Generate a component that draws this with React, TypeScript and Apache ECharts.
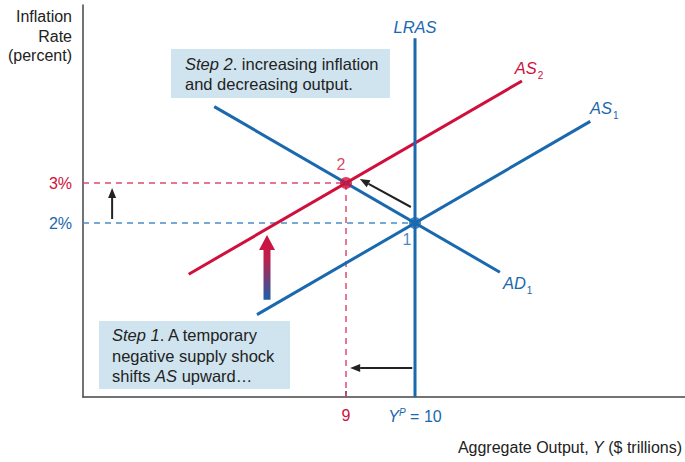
import React, { useEffect, useRef } from "react";
import * as echarts from "echarts";

// ---- data (economic units: Y in $ trillions, pi in percent) ----
const AS1 = [[7.71, -0.29], [12.54, 4.54]];
const AS2 = [[6.72, 0.72], [11.55, 5.55]];
const AD1 = [[7.09, 4.91], [11.23, 0.77]];
const LRAS = [[10, -2.35], [10, 6.62]];
const POINT1 = [10, 2];
const POINT2 = [9, 3];
// arrows: [x1, y1, x2, y2] (tail -> head)
const BLACK_ARROWS = [
  [9.94, 2.4, 9.2, 3.1],
  [5.61, 2.1, 5.61, 2.875],
  [9.96, -1.625, 9.06, -1.625],
];
const SHOCK_ARROW = [[7.855, 0.08, 7.855, 1.7]];
const X_TICKS = [9, 10];
const Y_TICKS = [2, 3];
const X_RANGE = [5.188, 13.913];
const Y_RANGE = [-2.35, 7.45];

const RED = "#d0103c";
const BLUE = "#1a68ae";
const RED_DASH = "#e04a70";
const BLUE_DASH = "#4a8dc8";
const FONT = "Liberation Sans, Arial, sans-serif";
const BOX = "#cfe4ef";

function arrowItem(params: any, api: any) {
  const p1 = api.coord([api.value(0), api.value(1)]);
  const p2 = api.coord([api.value(2), api.value(3)]);
  const dx = p2[0] - p1[0];
  const dy = p2[1] - p1[1];
  const len = Math.sqrt(dx * dx + dy * dy);
  const ux = dx / len, uy = dy / len;
  const nx = -uy, ny = ux;
  const hl = 10, hw = 4;
  const bx = p2[0] - ux * hl, by = p2[1] - uy * hl;
  return {
    type: "group",
    children: [
      { type: "line", shape: { x1: p1[0], y1: p1[1], x2: bx, y2: by }, style: { stroke: "#222", lineWidth: 2 } },
      {
        type: "polygon",
        shape: { points: [[p2[0], p2[1]], [bx + nx * hw, by + ny * hw], [bx - nx * hw, by - ny * hw]] },
        style: { fill: "#222" },
      },
    ],
  };
}

function shockItem(params: any, api: any) {
  const p1 = api.coord([api.value(0), api.value(1)]);
  const p2 = api.coord([api.value(2), api.value(3)]);
  const x = p1[0];
  const sw = 3.5, hw = 8, hl = 15;
  const hb = p2[1] + hl;
  return {
    type: "polygon",
    shape: {
      points: [
        [x - sw, p1[1]], [x - sw, hb], [x - hw, hb], [x, p2[1]], [x + hw, hb], [x + sw, hb], [x + sw, p1[1]],
      ],
    },
    style: {
      fill: new echarts.graphic.LinearGradient(0, 0, 0, 1, [
        { offset: 0, color: RED },
        { offset: 0.35, color: "#c01e4a" },
        { offset: 1, color: "#1f5fa8" },
      ]),
    },
  };
}

function lineSeries(name: string, data: number[][], color: string, label: any) {
  const d: any[] = data.map((p) => ({ value: p }));
  d[d.length - 1].label = label;
  return {
    name,
    type: "line",
    data: d,
    symbol: "circle",
    symbolSize: 0,
    showSymbol: true,
    lineStyle: { color, width: 3 },
    itemStyle: { color },
    z: 3,
  };
}

const curveRich = (color: string) => ({
  i: { fontStyle: "italic", fontSize: 16.5, color, fontFamily: FONT, lineHeight: 24 },
  s: { fontSize: 10, color, fontFamily: FONT, lineHeight: 10, verticalAlign: "bottom", padding: [0, 0, 0, 1] },
});

export default function App() {
  const ref = useRef<HTMLDivElement>(null);
  useEffect(() => {
    const chart = echarts.init(ref.current!, undefined, { renderer: "svg" });
    chart.setOption({
      animation: false,
      backgroundColor: "#fff",
      textStyle: { fontFamily: FONT },
      grid: { left: 83, right: 0, top: 5, bottom: 65 },
      xAxis: {
        type: "value",
        min: X_RANGE[0],
        max: X_RANGE[1],
        splitLine: { show: false },
        axisLine: { onZero: false, lineStyle: { color: "#444", width: 1.5 } },
        axisTick: { show: true, inside: true, length: 6, customValues: [X_TICKS[0]], lineStyle: { color: "#333", width: 1.5 } },
        axisLabel: {
          customValues: X_TICKS,
          margin: 10,
          formatter: (v: number) => (v === X_TICKS[0] ? "{r|" + v + "}" : "{i|Y}{p|P}{b| = " + v + "}"),
          rich: {
            r: { color: RED, fontSize: 16, fontFamily: FONT },
            i: { color: BLUE, fontSize: 16, fontStyle: "italic", fontFamily: FONT },
            p: { color: BLUE, fontSize: 10, fontStyle: "italic", fontFamily: FONT, verticalAlign: "top", padding: [0, 0, 8, 0] },
            b: { color: BLUE, fontSize: 16, fontFamily: FONT },
          },
        },
      },
      yAxis: {
        type: "value",
        min: Y_RANGE[0],
        max: Y_RANGE[1],
        splitLine: { show: false },
        axisLine: { onZero: false, lineStyle: { color: "#444", width: 1.5 } },
        axisTick: { show: false },
        axisLabel: {
          customValues: Y_TICKS,
          margin: 11,
          fontSize: 16,
          fontFamily: FONT,
          formatter: (v: number) => v + "%",
          color: (v: any) => (Number(v) === 3 ? RED : BLUE),
        },
      },
      series: [
        {
          type: "line",
          data: [[X_RANGE[0], POINT2[1]], POINT2, [POINT2[0], Y_RANGE[0]]],
          symbol: "none",
          lineStyle: { color: RED_DASH, width: 1.5, type: [6, 5] },
          z: 1,
        },
        {
          type: "line",
          data: [[X_RANGE[0], POINT1[1]], POINT1],
          symbol: "none",
          lineStyle: { color: BLUE_DASH, width: 1.5, type: [6, 5] },
          z: 1,
        },
        lineSeries("AS1", AS1, BLUE, {
          show: true, position: "top", offset: [14, 4],
          formatter: "{i|AS}{s|1}", rich: curveRich(BLUE),
        }),
        lineSeries("AS2", AS2, RED, {
          show: true, position: "top", offset: [7, 4],
          formatter: "{i|AS}{s|2}", rich: curveRich(RED),
        }),
        lineSeries("AD1", AD1, BLUE, {
          show: true, position: "right", offset: [-2, 11],
          formatter: "{i|AD}{s|1}", rich: curveRich(BLUE),
        }),
        lineSeries("LRAS", LRAS, BLUE, {
          show: true, position: "top", distance: 3,
          formatter: "{i|LRAS}", rich: { i: { fontStyle: "italic", fontSize: 16.5, color: BLUE, fontFamily: FONT } },
        }),
        {
          type: "scatter",
          data: [
            { value: POINT1, itemStyle: { color: BLUE }, label: { show: true, position: "bottom", offset: [-8, -3], formatter: "1", color: BLUE } },
            { value: POINT2, itemStyle: { color: RED }, label: { show: true, position: "top", offset: [-5, 0], formatter: "2", color: RED } },
          ],
          symbolSize: 12,
          label: { fontSize: 16, fontFamily: FONT },
          z: 5,
        },
        {
          type: "custom",
          data: BLACK_ARROWS,
          encode: { x: [0, 2], y: [1, 3] },
          renderItem: arrowItem,
          z: 6,
        },
        {
          type: "custom",
          data: SHOCK_ARROW,
          encode: { x: [0, 2], y: [1, 3] },
          renderItem: shockItem,
          z: 6,
        },
      ],
      graphic: [
        {
          type: "text",
          x: 72,
          y: 7,
          style: {
            text: "Inflation\nRate\n(percent)",
            align: "right",
            fontSize: 16,
            lineHeight: 19.5,
            fill: "#222",
            fontFamily: FONT,
          },
        },
        {
          type: "text",
          x: 682,
          y: 439,
          style: {
            text: "{n|Aggregate Output, }{i|Y}{n| ($ trillions)}",
            align: "right",
            rich: {
              n: { fontSize: 16, fill: "#222", fontFamily: FONT },
              i: { fontSize: 16, fill: "#222", fontStyle: "italic", fontFamily: FONT },
            },
          },
        },
        {
          type: "rect",
          shape: { x: 171, y: 49, width: 219, height: 49 },
          style: { fill: BOX },
          z: 10,
        },
        {
          type: "text",
          x: 185,
          y: 54,
          style: {
            text: "{i|Step 2}{n|. increasing inflation}\n{n|and decreasing output.}",
            rich: {
              n: { fontSize: 16.5, fill: "#222", fontFamily: FONT, lineHeight: 20 },
              i: { fontSize: 16.5, fill: "#222", fontStyle: "italic", fontFamily: FONT, lineHeight: 20 },
            },
          },
          z: 11,
        },
        {
          type: "rect",
          shape: { x: 99, y: 321, width: 191, height: 68 },
          style: { fill: BOX },
          z: 10,
        },
        {
          type: "text",
          x: 112,
          y: 325,
          style: {
            text: "{i|Step 1}{n|. A temporary}\n{n|negative supply shock}\n{n|shifts }{i|AS}{n| upward…}",
            rich: {
              n: { fontSize: 16.5, fill: "#222", fontFamily: FONT, lineHeight: 20.5 },
              i: { fontSize: 16.5, fill: "#222", fontStyle: "italic", fontFamily: FONT, lineHeight: 20.5 },
            },
          },
          z: 11,
        },
      ],
    });
    return () => chart.dispose();
  }, []);
  return <div ref={ref} style={{ position: "fixed", left: 0, top: 0, width: 685, height: 462 }} />;
}
